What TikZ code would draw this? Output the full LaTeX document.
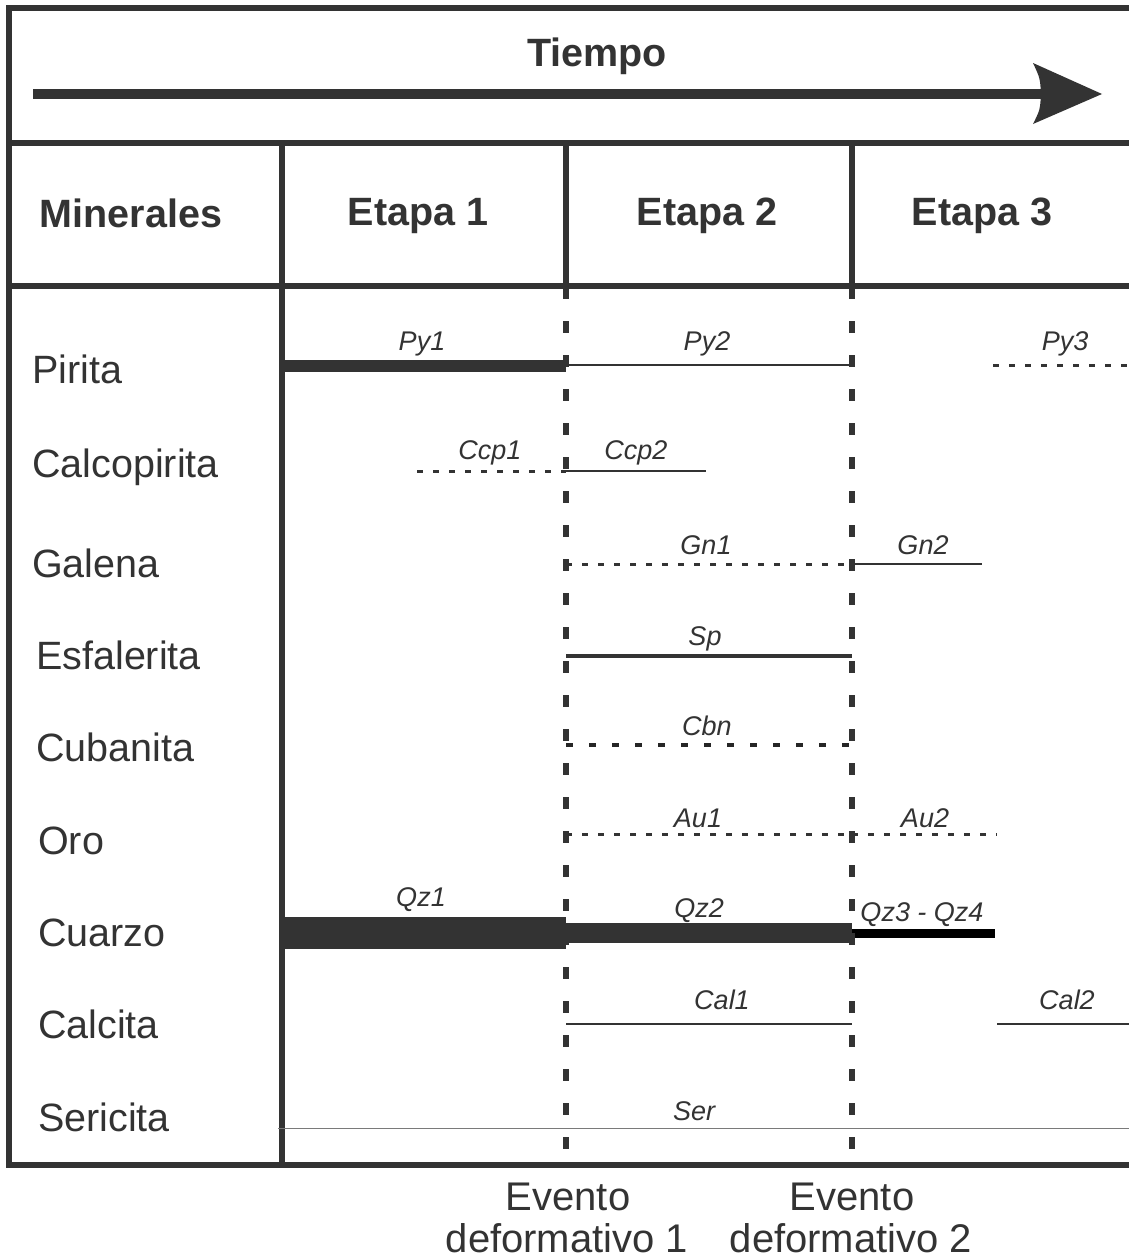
\documentclass[tikz,border=0pt]{standalone}
\usepackage{fontspec}
\setmainfont{Liberation Sans}
\definecolor{inkc}{HTML}{333333}
\definecolor{serc}{HTML}{7A7A7A}
\begin{document}
\begin{tikzpicture}[x=1pt,y=-1pt,
  frame/.style={draw=inkc,line width=6pt},
  eventline/.style={draw=inkc,line width=6.5pt,dash pattern=on 12pt off 22pt},
  head/.style={text=inkc,font=\fontsize{39.5}{46}\selectfont\bfseries,anchor=base},
  mineral/.style={text=inkc,font=\fontsize{39.5}{46}\selectfont,anchor=base west},
  tag/.style={text=inkc,font=\fontsize{27}{31}\selectfont\itshape,anchor=base},
  eventlabel/.style={text=inkc,font=\fontsize{40}{46}\selectfont,anchor=base},
  heavybar/.style={draw=inkc,line width=12pt},
  quartz/.style={draw=inkc,line width=#1},
  thinline/.style={draw=inkc,line width=2.5pt},
  midline/.style={draw=inkc,line width=4pt},
  hairline/.style={draw=inkc,line width=1.5pt},
  dotted line/.style={draw=inkc,line width=3pt,dash pattern=on 6pt off 10pt},
  dash line/.style={draw=black!85,line width=3.5pt,dash pattern=on 7pt off 16pt},
  every node/.style={inner sep=0pt}
]
\useasboundingbox (0,0) rectangle (1129,1258);
\fill[white] (0,0) rectangle (1129,1258);

% ---- time header ----
\node[head] (tiempo) at (597,66) {Tiempo};
\coordinate (arrowA) at (33,94);
\coordinate (arrowB) at (1042,94);
\draw[inkc,line width=10pt] (arrowA) -- (arrowB);
\fill[inkc] (1102,94) -- (1033,63) .. controls (1040,78) .. (1041,94)
  .. controls (1040,110) .. (1033,124) -- cycle;

% ---- table frame ----
\draw[frame] (9,5) -- (9,1165) -- (1129,1165);
\draw[frame] (6,8) -- (1129,8);
\draw[frame] (9,143) -- (1129,143);
\draw[frame] (9,286) -- (1129,286);
\draw[frame] (282,143) -- (282,1165);
\draw[frame] (566,143) -- (566,288);
\draw[frame] (852,143) -- (852,288);

% ---- column headers ----
\node[head] (hmin) at (131,227) {Minerales};
\node[head] (het1) at (418,225) {Etapa 1};
\node[head] (het2) at (707,225) {Etapa 2};
\node[head] (het3) at (982,225) {Etapa 3};

% ---- mineral names ----
\node[mineral] (pirita) at (32,383) {Pirita};
\node[mineral] (calcop) at (32,477) {Calcopirita};
\node[mineral] (galena) at (32,577) {Galena};
\node[mineral] (esfal) at (36,669) {Esfalerita};
\node[mineral] (cuban) at (36,761) {Cubanita};
\node[mineral] (oro) at (38,854) {Oro};
\node[mineral] (cuarzo) at (38,946) {Cuarzo};
\node[mineral] (calcita) at (38,1038) {Calcita};
\node[mineral] (seric) at (38,1131) {Sericita};

% Pirita
\draw[heavybar] (283,366) -- (566,366);
\draw[thinline] (566,365) -- (852,365);
\draw[dotted line] (993,365) -- (1129,365);
\node[tag] (py1) at (422,350) {Py1};
\node[tag] (py2) at (707,350) {Py2};
\node[tag] (py3) at (1065,350) {Py3};

% Calcopirita
\draw[dotted line] (417,471) -- (566,471);
\draw[thinline] (566,471) -- (706,471);
\node[tag] (ccp1) at (490,459) {Ccp1};
\node[tag] (ccp2) at (636,459) {Ccp2};

% Galena
\draw[dotted line] (566,564) -- (852,564);
\draw[thinline] (852,564) -- (982,564);
\node[tag] (gn1) at (706,554) {Gn1};
\node[tag] (gn2) at (923,554) {Gn2};

% Esfalerita
\draw[midline] (566,656) -- (852,656);
\node[tag] (sp) at (705,645) {Sp};

% Cubanita
\draw[dash line] (566,745) -- (852,745);
\node[tag] (cbn) at (707,735) {Cbn};

% Oro
\draw[dotted line] (566,834) -- (852,834);
\draw[dotted line] (852,834) -- (997,834);
\node[tag] (au1) at (698,827) {Au1};
\node[tag] (au2) at (925,827) {Au2};

% Cuarzo
\draw[quartz=32pt] (283,933) -- (566,933);
\draw[quartz=20pt] (566,933) -- (852,933);
\draw[draw=black,line width=9pt] (852,933.5) -- (995,933.5);
\node[tag] (qz1) at (421,906) {Qz1};
\node[tag] (qz2) at (699,917) {Qz2};
\node[tag] (qz34) at (922,921) {Qz3 - Qz4};

% Calcita
\draw[hairline] (566,1024) -- (852,1024);
\draw[hairline] (997,1024) -- (1129,1024);
\node[tag] (cal1) at (722,1009) {Cal1};
\node[tag] (cal2) at (1067,1009) {Cal2};

% Sericita
\draw[serc,line width=1pt] (278,1128) -- (1129,1128);
\node[tag] (ser) at (694,1120) {Ser};

% ---- deformation events ----
\draw[eventline] (566,287) -- (566,1165);
\draw[eventline] (852,287) -- (852,1165);
\node[eventlabel] (ev1a) at (568,1210) {Evento};
\node[eventlabel] (ev1b) at (567,1252) {deformativo 1};
\node[eventlabel] (ev2a) at (852,1210) {Evento};
\node[eventlabel] (ev2b) at (851,1252) {deformativo 2};
\end{tikzpicture}
\end{document}
